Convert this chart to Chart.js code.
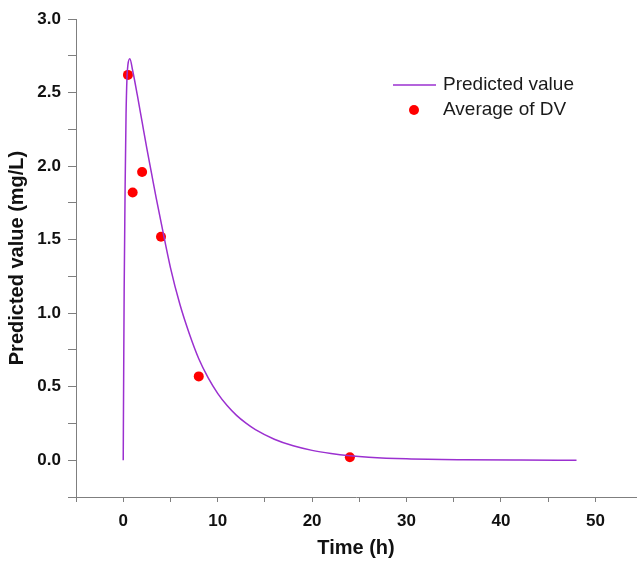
<!DOCTYPE html>
<html>
<head>
<meta charset="utf-8">
<script src="https://cdn.jsdelivr.net/npm/chart.js@4/dist/chart.umd.min.js"></script>
<style>
html, body { margin: 0; padding: 0; background: #fff; }
#wrap { width: 641px; height: 561px; }
</style>
</head>
<body>
<div id="wrap"><canvas id="pkChart" width="641" height="561"></canvas></div>
<script>
// predicted concentration curve
var predTime = [0, 0.05, 0.1, 0.15, 0.2, 0.3, 0.4, 0.5, 0.7, 1, 1.5, 2, 2.5, 3, 3.5, 4, 5, 6, 7, 8, 9, 10, 11, 12, 13, 14, 16, 18, 20, 22, 24, 26, 30, 36, 42, 48];
var predValue = [0, 0.6, 1.15, 1.5, 1.85, 2.35, 2.6, 2.69, 2.73, 2.65, 2.48, 2.3, 2.12, 1.95, 1.78, 1.62, 1.31, 1.06, 0.86, 0.69, 0.56, 0.455, 0.372, 0.305, 0.252, 0.208, 0.143, 0.098, 0.067, 0.046, 0.031, 0.021, 0.01, 0.0035, 0.0012, 0.0005];

// observed averages
var obsTime = [0.5, 1, 2, 4, 8, 24];
var obsValue = [2.62, 1.82, 1.96, 1.52, 0.57, 0.02];

var xLabels = [0, 10, 20, 30, 40, 50];
var yLabels = [0, 0.5, 1, 1.5, 2, 2.5, 3];

var axisGray = '#7f7f7f';
var tickFont = { family: 'Liberation Sans, Arial, sans-serif', size: 17, weight: 'bold' };
var titleFont = { family: 'Liberation Sans, Arial, sans-serif', size: 20, weight: 'bold' };

function toPoints(xs, ys) {
    var pts = [];
    for (var i = 0; i < xs.length; i++) pts.push({ x: xs[i], y: ys[i] });
    return pts;
}

// legend drawn at a fixed spot inside the plot, like the original
var cornerLegend = {
    id: 'cornerLegend',
    afterDraw: function (chart) {
        var ctx = chart.ctx;
        var ds = chart.data.datasets;
        ctx.save();
        ctx.font = '19px "Liberation Sans", Arial, sans-serif';
        ctx.fillStyle = '#1a1a1a';
        ctx.textBaseline = 'middle';
        // line entry
        ctx.strokeStyle = ds[0].borderColor;
        ctx.lineWidth = 1.5;
        ctx.beginPath();
        ctx.moveTo(393, 85);
        ctx.lineTo(436, 85);
        ctx.stroke();
        ctx.fillText(ds[0].label, 443, 85);
        // point entry
        ctx.fillStyle = ds[1].backgroundColor;
        ctx.beginPath();
        ctx.arc(414, 110, 5, 0, Math.PI * 2);
        ctx.fill();
        ctx.fillStyle = '#1a1a1a';
        ctx.fillText(ds[1].label, 443, 110);
        ctx.restore();
    }
};

new Chart(document.getElementById('pkChart'), {
    type: 'scatter',
    data: {
        datasets: [{
            label: 'Predicted value',
            data: toPoints(predTime, predValue),
            showLine: true,
            borderColor: '#9b30d0',
            borderWidth: 1.5,
            pointRadius: 0,
            cubicInterpolationMode: 'monotone',
            fill: false
        }, {
            label: 'Average of DV',
            data: toPoints(obsTime, obsValue),
            showLine: false,
            backgroundColor: '#ff0000',
            borderColor: '#ff0000',
            pointRadius: 5,
            pointBorderWidth: 0
        }]
    },
    options: {
        responsive: false,
        animation: false,
        devicePixelRatio: 1,
        layout: { padding: { left: 0, right: 0, top: 19, bottom: 0 } },
        plugins: {
            legend: { display: false },
            tooltip: { enabled: false }
        },
        scales: {
            x: {
                type: 'linear',
                min: -5,
                max: 54.3,
                afterFit: function (axis) { axis.height = 64; },
                afterBuildTicks: function (axis) {
                    var t = [];
                    for (var v = -5; v <= 50; v += 5) t.push({ value: v });
                    axis.ticks = t;
                },
                ticks: {
                    autoSkip: false,
                    maxRotation: 0,
                    padding: 9,
                    color: '#111',
                    font: tickFont,
                    callback: function (v) { return xLabels.indexOf(v) >= 0 ? String(v) : ''; }
                },
                grid: { drawOnChartArea: false, drawTicks: true, tickLength: 5, color: axisGray },
                border: { color: axisGray, width: 1 },
                title: { display: true, text: 'Time (h)', color: '#111', font: titleFont, padding: { top: 0, bottom: 1 } }
            },
            y: {
                type: 'linear',
                min: -0.25,
                max: 3,
                afterFit: function (axis) { axis.width = 76; },
                afterBuildTicks: function (axis) {
                    var t = [];
                    for (var i = -1; i <= 12; i++) t.push({ value: i * 0.25 });
                    axis.ticks = t;
                },
                ticks: {
                    autoSkip: false,
                    padding: 7,
                    color: '#111',
                    font: tickFont,
                    callback: function (v) {
                        var r = Math.round(v * 100) / 100;
                        return yLabels.indexOf(r) >= 0 ? r.toFixed(1) : '';
                    }
                },
                grid: { drawOnChartArea: false, drawTicks: true, tickLength: 8, color: axisGray },
                border: { color: axisGray, width: 1 },
                title: { display: true, text: 'Predicted value (mg/L)', color: '#111', font: titleFont, padding: { top: 5, bottom: 0 } }
            }
        }
    },
    plugins: [cornerLegend]
});
</script>
</body>
</html>
